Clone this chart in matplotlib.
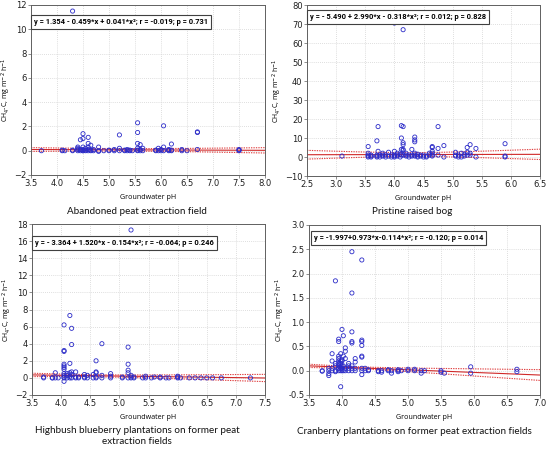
import numpy as np
import matplotlib
matplotlib.use("Agg")
import matplotlib.pyplot as plt
from matplotlib.ticker import MultipleLocator, FormatStrFormatter

# ---- data ----
# Abandoned peat extraction field
abandoned_ph = [3.7, 4.1, 4.1, 4.15, 4.3, 4.3, 4.3, 4.4, 4.4, 4.4, 4.4,
                4.45, 4.45, 4.45, 4.5, 4.5, 4.5, 4.5, 4.5, 4.5, 4.55, 4.55, 4.55,
                4.6, 4.6, 4.6, 4.6, 4.6, 4.65, 4.65, 4.65, 4.7, 4.7, 4.8, 4.8, 4.8,
                4.9, 5.0, 5.0, 5.1, 5.1, 5.2, 5.2, 5.2, 5.3, 5.3, 5.35, 5.35,
                5.4, 5.4, 5.45, 5.55, 5.55, 5.55, 5.55, 5.55, 5.55, 5.6, 5.6, 5.6,
                5.65, 5.65, 5.9, 5.9, 5.95, 5.95, 6.0, 6.0, 6.05, 6.05, 6.05,
                6.15, 6.15, 6.15, 6.2, 6.2, 6.2, 6.4, 6.4, 6.5, 6.7, 6.7, 6.7,
                7.5, 7.5, 7.5]
abandoned_ch4 = [0.0, 0.0, 0.05, 0.0, 11.5, 0.0, 0.05, 0.0, 0.1, 0.3, 0.2,
                 0.9, 0.0, 0.1, 1.0, 1.4, 0.3, 0.0, 0.1, 0.0, 0.0, 0.2, 0.05,
                 1.1, 0.6, 0.0, 0.1, 0.3, 0.45, 0.0, 0.05, 0.0, 0.1, 0.3, 0.0, -0.05,
                 0.0, 0.0, 0.05, 0.1, 0.0, 1.3, 0.2, 0.0, 0.0, 0.05, 0.1, 0.0,
                 0.0, 0.05, 0.0, 2.3, 1.5, 0.6, 0.2, 0.0, 0.05, 0.5, 0.1, 0.0,
                 0.2, 0.0, 0.05, 0.0, 0.2, 0.0, 0.0, 0.1, 2.05, 0.3, 0.0,
                 0.0, 0.05, 0.1, 0.55, 0.0, 0.05, 0.1, 0.0, 0.0, 1.55, 1.5, 0.1,
                 0.05, 0.0, 0.1]

# Pristine raised bog
pristine_ph = [3.1, 3.55, 3.55, 3.55, 3.55, 3.55, 3.6, 3.6, 3.6,
               3.7, 3.7, 3.7, 3.7, 3.72, 3.72, 3.75, 3.75, 3.8, 3.8, 3.8,
               3.85, 3.85, 3.9, 3.9, 3.95, 3.95, 4.0, 4.0, 4.0, 4.0, 4.0,
               4.05, 4.05, 4.05, 4.1, 4.1, 4.12, 4.12, 4.12, 4.12,
               4.15, 4.15, 4.15, 4.15, 4.15, 4.15, 4.15, 4.2, 4.2, 4.2,
               4.25, 4.25, 4.3, 4.3, 4.3, 4.35, 4.35, 4.35, 4.35, 4.35, 4.35,
               4.4, 4.4, 4.4, 4.45, 4.45, 4.5, 4.5, 4.55, 4.55, 4.6, 4.6,
               4.65, 4.65, 4.65, 4.65, 4.65, 4.65, 4.75, 4.75, 4.75, 4.85, 4.85,
               5.05, 5.05, 5.05, 5.1, 5.1, 5.15, 5.15, 5.2, 5.2,
               5.25, 5.25, 5.25, 5.3, 5.3, 5.3, 5.4, 5.4, 5.9, 5.9, 5.9]
pristine_ch4 = [0.5, 5.5, 2.0, 0.5, 0.0, 1.0, 1.0, 0.5, 0.0,
                8.5, 1.0, 0.5, 0.0, 16.0, 3.0, 1.0, 0.0, 0.5, 1.0, 2.0,
                0.0, 1.0, 0.5, 2.5, 1.0, 0.0, 70.5, 3.0, 1.0, 0.5, 0.0,
                2.0, 0.5, 1.0, 0.0, 1.5, 16.5, 10.0, 4.0, 1.0,
                67.0, 16.0, 6.5, 7.5, 4.0, 3.5, 1.0, 0.5, 1.0, 2.0,
                1.0, 0.0, 4.0, 0.5, 1.0, 10.5, 9.0, 8.0, 2.0, 1.0, 0.5,
                1.5, 0.0, 0.5, 1.0, 0.5, 1.0, 0.0, 0.0, 0.5, 1.0, 2.0,
                5.5, 5.0, 3.0, 2.0, 1.0, 0.5, 16.0, 4.5, 1.0, 6.0, 0.0,
                2.5, 1.0, 0.5, 1.0, 0.0, 2.0, 0.0, 1.5, 0.5,
                5.0, 2.5, 1.0, 6.5, 2.0, 1.0, 4.5, 0.0, 7.0, 0.5, 0.0]

# Highbush blueberry plantations
blueberry_ph = [3.7, 3.7, 3.85, 3.85, 3.9, 3.9, 3.95,
                4.05, 4.05, 4.05, 4.05, 4.05, 4.05, 4.05, 4.05, 4.05, 4.05, 4.05, 4.05,
                4.1, 4.1, 4.1, 4.15, 4.15, 4.15, 4.15, 4.15,
                4.18, 4.18, 4.18, 4.18, 4.18, 4.25, 4.25, 4.25, 4.3, 4.3,
                4.4, 4.4, 4.4, 4.45, 4.45, 4.55, 4.55,
                4.6, 4.6, 4.6, 4.6, 4.6, 4.7, 4.7, 4.7, 4.85, 4.85, 4.85,
                5.05, 5.05, 5.15, 5.15, 5.15, 5.15, 5.15, 5.2, 5.2, 5.2, 5.2,
                5.25, 5.25, 5.4, 5.45, 5.45, 5.55, 5.6, 5.7, 5.7, 5.8, 5.85,
                6.0, 6.0, 6.0, 6.05, 6.2, 6.3, 6.4, 6.5, 6.6, 6.75, 7.25]
blueberry_ch4 = [0.1, 0.0, 0.0, 0.0, 0.6, 0.0, 0.0,
                 6.2, 3.2, 3.1, 1.6, 1.4, 1.2, 1.0, 0.5, 0.3, 0.1, 0.0, -0.4,
                 0.5, 0.3, 0.0, 7.3, 1.7, 0.6, 0.2, 0.0,
                 5.8, 3.9, 0.7, 0.4, 0.0, 0.7, 0.1, 0.0, 0.1, 0.0,
                 0.4, 0.1, 0.0, 0.3, 0.0, 0.4, 0.0,
                 2.0, 0.7, 0.6, 0.1, 0.0, 4.0, 0.3, 0.0, 0.5, 0.2, 0.0,
                 0.0, 0.1, 3.6, 1.6, 0.9, 0.6, 0.0, 17.3, 0.3, 0.1, 0.0,
                 0.0, 0.1, 0.0, 0.2, 0.0, 0.0, 0.1, 0.1, 0.0, 0.0, 0.0,
                 0.2, 0.1, 0.0, 0.0, 0.0, 0.0, 0.0, 0.0, 0.0, 0.0, 0.0]

# Cranberry plantations
cranberry_ph = [3.7, 3.7, 3.8, 3.8, 3.8, 3.8, 3.85, 3.85, 3.85, 3.85,
                3.9, 3.9, 3.9, 3.9, 3.9,
                3.95, 3.95, 3.95, 3.95, 3.95, 3.95, 3.95, 3.95, 3.95,
                3.98, 3.98, 3.98, 3.98, 3.98, 3.98, 3.98,
                4.0, 4.0, 4.0, 4.0, 4.0, 4.0, 4.02, 4.02, 4.02, 4.02,
                4.05, 4.05, 4.05, 4.05, 4.05, 4.1, 4.1, 4.1, 4.1,
                4.15, 4.15, 4.15, 4.15, 4.15, 4.15, 4.15, 4.15,
                4.2, 4.2, 4.2, 4.2,
                4.3, 4.3, 4.3, 4.3, 4.3, 4.3, 4.3, 4.3, 4.3,
                4.35, 4.35, 4.4, 4.4, 4.55, 4.55, 4.6, 4.6, 4.7, 4.7,
                4.75, 4.75, 4.85, 4.85, 4.85, 4.9, 5.0, 5.0, 5.1, 5.1,
                5.2, 5.2, 5.25, 5.5, 5.5, 5.55, 5.95, 5.95, 6.65, 6.65]
cranberry_ch4 = [-0.01, 0.0, -0.1, -0.06, 0.0, 0.05, 0.35, 0.2, 0.0, 0.05,
                 1.85, 0.1, 0.15, 0.0, -0.02,
                 0.65, 0.6, 0.3, 0.2, 0.1, 0.05, 0.0, 0.25, 0.15,
                 0.35, 0.2, 0.15, 0.1, 0.05, 0.0, -0.33,
                 0.85, 0.22, 0.2, 0.1, 0.05, 0.0, 0.72, 0.3, 0.1, 0.0,
                 0.47, 0.4, 0.25, 0.05, 0.0, 0.15, 0.1, 0.05, 0.0,
                 2.45, 1.6, 0.6, 0.57, 0.8, 0.1, 0.05, 0.0,
                 0.25, 0.18, 0.05, 0.0,
                 2.28, 0.63, 0.6, 0.52, 0.3, 0.28, 0.05, 0.0, -0.08,
                 0.05, 0.0, 0.0, 0.02, -0.02, 0.0, 0.0, -0.03, 0.0, 0.02,
                 -0.05, 0.0, -0.02, 0.0, 0.02, 0.0, 0.03, 0.0, 0.03, 0.0,
                 -0.05, 0.0, 0.0, 0.0, -0.03, -0.05, 0.08, -0.05, 0.03, -0.02]

titles = ["Abandoned peat extraction field",
          "Pristine raised bog",
          "Highbush blueberry plantations on former peat\nextraction fields",
          "Cranberry plantations on former peat extraction fields"]
equations = ["y = 1.354 - 0.459*x + 0.041*x²; r = -0.019; p = 0.731",
             "y = - 5.490 + 2.990*x - 0.318*x²; r = 0.012; p = 0.828",
             "y = - 3.364 + 1.520*x - 0.154*x²; r = -0.064; p = 0.246",
             "y = -1.997+0.973*x-0.114*x²; r = -0.120; p = 0.014"]
xlims = [(3.5, 8.0), (2.5, 6.5), (3.5, 7.5), (3.5, 7.0)]
ylims = [(-2, 12), (-10, 80), (-2, 18), (-0.5, 3.0)]
ysteps = [2, 10, 2, 0.5]
# drawn fit line (value at left edge, slope) and its band (centre, min half width, spread)
fit_left = [0.10, 1.2, 0.35, 0.10]
fit_slope = [-0.015, 0.05, -0.09, -0.054]
band_x0 = [5.2, 4.3, 4.6, 4.2]
band_a = [0.10, 1.0, 0.12, 0.02]
band_b = [0.07, 1.15, 0.14, 0.039]

xs = [abandoned_ph, pristine_ph, blueberry_ph, cranberry_ph]
ys = [abandoned_ch4, pristine_ch4, blueberry_ch4, cranberry_ch4]

W, H = 550, 450
# axes boxes in pixels: left, top, right, bottom
boxes = [(31, 5, 265, 175), (307, 5, 540, 176), (32, 224, 265, 395), (309, 225, 540, 395)]
title_pos = [(137, 211), (412, 211), (137, 436), (414, 431)]
eq_pos = [(34, 22), (310, 17), (35, 243), (314, 238)]

fig = plt.figure(figsize=(W / 100, H / 100), dpi=100)

for i in range(4):
    l, t, r, b = boxes[i]
    ax = fig.add_axes([l / W, 1 - b / H, (r - l) / W, (b - t) / H])
    ax.set_xlim(*xlims[i])
    ax.set_ylim(*ylims[i])
    ax.xaxis.set_major_locator(MultipleLocator(0.5))
    ax.xaxis.set_major_formatter(FormatStrFormatter("%.1f"))
    ax.yaxis.set_major_locator(MultipleLocator(ysteps[i]))
    if i == 3:
        ax.yaxis.set_major_formatter(FormatStrFormatter("%.1f"))
    ax.grid(True, color="#d4d4d4", linestyle=(0, (1, 1.5)), linewidth=0.6)
    ax.set_axisbelow(True)
    for s in ax.spines.values():
        s.set_color("#606060")
        s.set_linewidth(0.7)
    ax.tick_params(labelsize=6.0, length=2, width=0.5, color="#606060",
                   labelcolor="#202020", pad=1.2)

    xx = np.linspace(xlims[i][0], xlims[i][1], 200)
    line = fit_left[i] + fit_slope[i] * (xx - xlims[i][0])
    half = np.sqrt(band_a[i] ** 2 + (band_b[i] * (xx - band_x0[i])) ** 2)
    ax.plot(xx, line, color="#d02828", linewidth=0.8)
    ax.plot(xx, line + half, color="#e04040", linewidth=0.8, linestyle=(0, (1.2, 1.0)))
    ax.plot(xx, line - half, color="#e04040", linewidth=0.8, linestyle=(0, (1.2, 1.0)))

    ax.scatter(xs[i], ys[i], s=9, facecolors="none", edgecolors="#2b2bc8",
               linewidths=0.6, zorder=3, clip_on=False)

    ax.set_xlabel("Groundwater pH", fontsize=5.1, family="Open Sans", labelpad=4)
    ax.set_ylabel(r"CH$_4$-C, mg m$^{-2}$ h$^{-1}$", fontsize=5.0, family="Open Sans",
                  labelpad=1)

    ex, ey = eq_pos[i]
    fig.text(ex / W, 1 - ey / H, equations[i], fontsize=5.4, fontweight="bold",
             family="Roboto", va="center", ha="left",
             bbox=dict(boxstyle="square,pad=0.35", facecolor="white",
                       edgecolor="#404040", linewidth=0.8))

    tx, ty = title_pos[i]
    fig.text(tx / W, 1 - ty / H, titles[i], fontsize=7.1, family="Lato",
             ha="center", va="center", linespacing=1.3, color="#111111")

fig.savefig("out.png", dpi=100)
